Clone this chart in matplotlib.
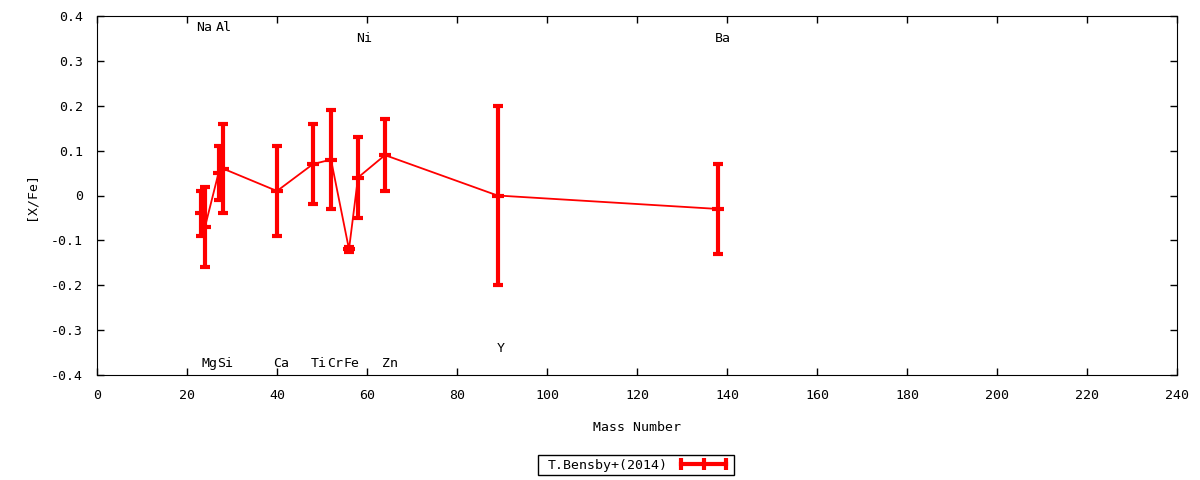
import matplotlib
matplotlib.use("Agg")
import matplotlib.pyplot as plt
from matplotlib.lines import Line2D
from matplotlib.ticker import FuncFormatter

plt.rcParams['font.family'] = ['DejaVu Sans Mono']
plt.rcParams['font.size'] = 9.5

# Datos
elements = ['Na', 'Mg', 'Al', 'Si', 'Ca', 'Ti', 'Cr', 'Fe', 'Ni', 'Zn', 'Y', 'Ba']
mass = [23, 24, 27, 28, 40, 48, 52, 56, 58, 64, 89, 138]
x_fe = [-0.04, -0.07, 0.05, 0.06, 0.01, 0.07, 0.08, -0.12, 0.04, 0.09, 0.0, -0.03]
err = [0.05, 0.09, 0.06, 0.10, 0.10, 0.09, 0.11, 0.005, 0.09, 0.08, 0.20, 0.10]

# Etiquetas de los elementos
label_text = ['Na', 'Al', 'Ni', 'Ba', 'Mg', 'Si', 'Ca', 'Ti', 'Cr', 'Fe', 'Zn', 'Y']
label_x = [22.1, 26.3, 57.5, 137.2, 23.3, 26.8, 39.2, 47.6, 51.1, 54.7, 63.4, 88.8]
label_y = [0.375, 0.375, 0.35, 0.35, -0.375, -0.375, -0.375, -0.375, -0.375, -0.375, -0.375, -0.34]

fig = plt.figure(figsize=(12, 4.8), dpi=100)
ax = fig.add_axes([97 / 1200, 105 / 480, 1080 / 1200, 359 / 480])

ax.plot(mass, x_fe, color='red', lw=1.3, zorder=2)
ax.errorbar(mass, x_fe, yerr=err, fmt='none', ecolor='red', elinewidth=3,
            capsize=3.5, capthick=3, zorder=3)
ax.plot(mass, x_fe, linestyle='none', marker='_', markersize=8, mew=3,
        color='red', zorder=3)

for t, lx, ly in zip(label_text, label_x, label_y):
    ax.text(lx, ly, t, ha='left', va='center')

ax.set_xlim(0, 240)
ax.set_ylim(-0.4, 0.4)
ax.set_xticks(range(0, 241, 20))
ax.set_yticks([-0.4, -0.3, -0.2, -0.1, 0, 0.1, 0.2, 0.3, 0.4])
ax.yaxis.set_major_formatter(FuncFormatter(lambda v, p: '%g' % round(v, 2)))
ax.tick_params(direction='in', top=True, right=True, length=5, width=1)
ax.tick_params(axis='x', pad=10)
ax.tick_params(axis='y', pad=10)

ax.set_xlabel('Mass Number', labelpad=14)
ax.set_ylabel('[X/Fe]', labelpad=10)

# Leyenda con la muestra de barras de error
handle = Line2D([], [], color='red', lw=3, marker='|', markersize=9, mew=3)
leg = fig.legend([handle], ['T.Bensby+(2014)'], loc='center',
                 bbox_to_anchor=(636 / 1200, 1 - 465 / 480), numpoints=3,
                 markerfirst=False, fancybox=False, edgecolor='black',
                 framealpha=1, borderpad=0.25, handlelength=4, borderaxespad=0,
                 handletextpad=1.2)
leg.get_frame().set_linewidth(1)
for txt in leg.get_texts():
    txt.set_x(6)

fig.savefig('out.png', dpi=100)
